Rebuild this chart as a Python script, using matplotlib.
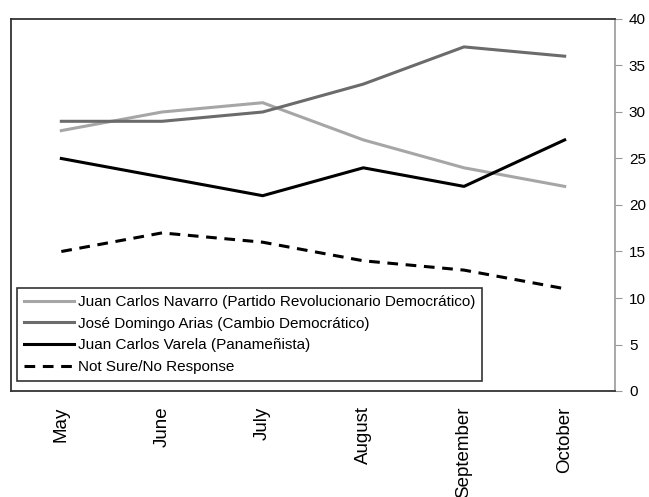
import matplotlib
matplotlib.use("Agg")
import matplotlib.pyplot as plt

plt.rcParams['font.family'] = ['Liberation Sans', 'DejaVu Sans']

months = ["May", "June", "July", "August", "September", "October"]
navarro = [28, 30, 31, 27, 24, 22]
arias = [29, 29, 30, 33, 37, 36]
varela = [25, 23, 21, 24, 22, 27]
not_sure = [15, 17, 16, 14, 13, 11]
y_ticks = [0, 5, 10, 15, 20, 25, 30, 35, 40]

W, H = 649, 497
fig = plt.figure(figsize=(W / 100, H / 100), dpi=100)
ax = fig.add_axes([11 / W, (H - 391) / H, (615 - 11) / W, (391 - 19) / H])

x = range(len(months))
lw = 2.2
ax.plot(x, navarro, color="#a6a6a6", lw=lw,
        label="Juan Carlos Navarro (Partido Revolucionario Democrático)")
ax.plot(x, arias, color="#6b6b6b", lw=lw,
        label="José Domingo Arias (Cambio Democrático)")
ax.plot(x, varela, color="#000000", lw=lw,
        label="Juan Carlos Varela (Panameñista)")
ax.plot(x, not_sure, color="#000000", lw=lw, ls=(0, (3.5, 2.5)),
        label="Not Sure/No Response")

ax.set_xlim(-0.5, len(months) - 0.5)
ax.set_ylim(0, 40)
ax.set_xticks(list(x))
ax.set_xticklabels(months, rotation=90, fontsize=13.5, va="top", ha="center")
ax.tick_params(axis="x", length=0, pad=11)

ax.yaxis.tick_right()
ax.set_yticks(y_ticks)
ax.tick_params(axis="y", which="both", right=True, left=False, length=5,
               color="#999999", labelsize=11, pad=5)

for side in ("top", "left", "bottom"):
    ax.spines[side].set_color("#333333")
    ax.spines[side].set_linewidth(1.3)
ax.spines["right"].set_color("#999999")
ax.spines["right"].set_linewidth(1.2)

leg = ax.legend(loc="lower left", bbox_to_anchor=((17 - 11) / 604, (391 - 381) / 372),
                borderaxespad=0, frameon=True, fancybox=False, fontsize=11,
                handlelength=3.3, handletextpad=0.25, labelspacing=0.5,
                borderpad=0.45)
leg.get_frame().set_edgecolor("#000000")
leg.get_frame().set_linewidth(1.2)

fig.savefig("out.png", dpi=100)
